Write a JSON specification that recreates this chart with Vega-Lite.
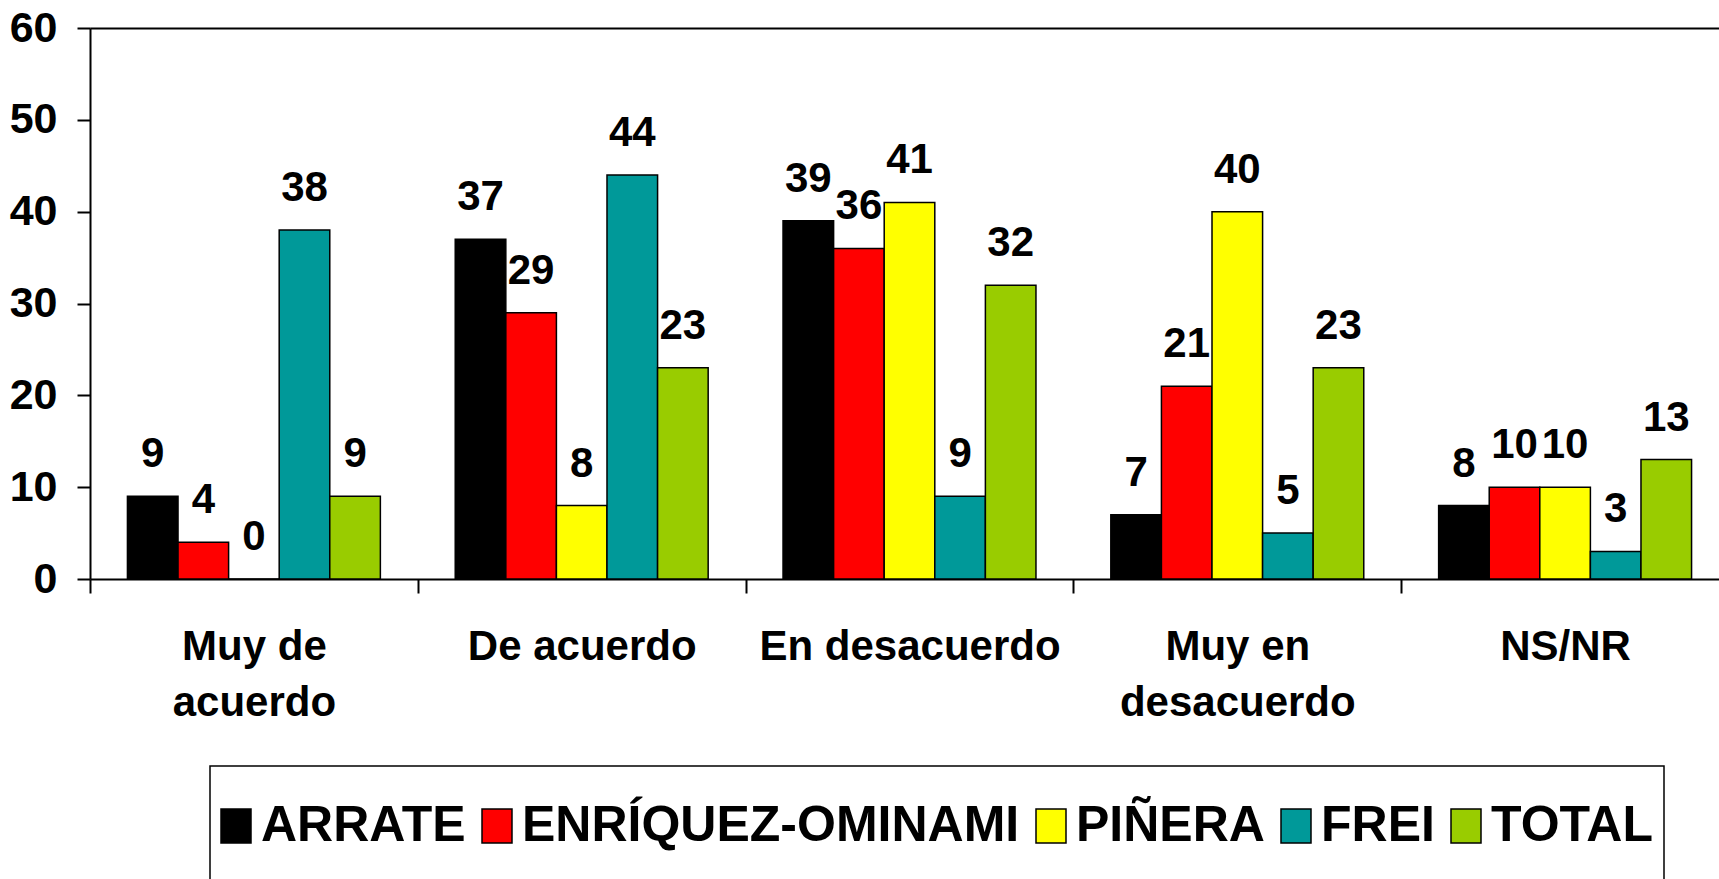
{
  "$schema": "https://vega.github.io/schema/vega-lite/v6.json",
  "width": 1639,
  "height": 551,
  "autosize": {"type": "none"},
  "padding": {"left": 90, "top": 28, "right": -10, "bottom": 300},
  "background": "white",
  "config": {
    "font": "Liberation Sans",
    "view": {"stroke": null}
  },
  "data": {
    "values": [
      {"cat": "Muy de acuerdo", "cand": "ARRATE", "v": 9},
      {"cat": "Muy de acuerdo", "cand": "ENRÍQUEZ-OMINAMI", "v": 4},
      {"cat": "Muy de acuerdo", "cand": "PIÑERA", "v": 0},
      {"cat": "Muy de acuerdo", "cand": "FREI", "v": 38},
      {"cat": "Muy de acuerdo", "cand": "TOTAL", "v": 9},
      {"cat": "De acuerdo", "cand": "ARRATE", "v": 37},
      {"cat": "De acuerdo", "cand": "ENRÍQUEZ-OMINAMI", "v": 29},
      {"cat": "De acuerdo", "cand": "PIÑERA", "v": 8},
      {"cat": "De acuerdo", "cand": "FREI", "v": 44},
      {"cat": "De acuerdo", "cand": "TOTAL", "v": 23},
      {"cat": "En desacuerdo", "cand": "ARRATE", "v": 39},
      {"cat": "En desacuerdo", "cand": "ENRÍQUEZ-OMINAMI", "v": 36},
      {"cat": "En desacuerdo", "cand": "PIÑERA", "v": 41},
      {"cat": "En desacuerdo", "cand": "FREI", "v": 9},
      {"cat": "En desacuerdo", "cand": "TOTAL", "v": 32},
      {"cat": "Muy en desacuerdo", "cand": "ARRATE", "v": 7},
      {"cat": "Muy en desacuerdo", "cand": "ENRÍQUEZ-OMINAMI", "v": 21},
      {"cat": "Muy en desacuerdo", "cand": "PIÑERA", "v": 40},
      {"cat": "Muy en desacuerdo", "cand": "FREI", "v": 5},
      {"cat": "Muy en desacuerdo", "cand": "TOTAL", "v": 23},
      {"cat": "NS/NR", "cand": "ARRATE", "v": 8},
      {"cat": "NS/NR", "cand": "ENRÍQUEZ-OMINAMI", "v": 10},
      {"cat": "NS/NR", "cand": "PIÑERA", "v": 10},
      {"cat": "NS/NR", "cand": "FREI", "v": 3},
      {"cat": "NS/NR", "cand": "TOTAL", "v": 13}
    ]
  },
  "encoding": {
    "x": {
      "field": "cat",
      "type": "nominal",
      "sort": null,
      "scale": {"paddingInner": 0, "paddingOuter": 0},
      "axis": {
        "title": null,
        "labelAngle": 0,
        "labelFontSize": 42,
        "labelFontWeight": "bold",
        "labelColor": "black",
        "labelPadding": 33,
        "labelLineHeight": 56,
        "labelLimit": 0,
        "labelBaseline": "top",
        "tickBand": "extent",
        "tickSize": 14,
        "tickWidth": 2,
        "tickColor": "black",
        "domainColor": "black",
        "domainWidth": 2,
        "labelExpr": "datum.label == 'Muy de acuerdo' ? ['Muy de', 'acuerdo'] : datum.label == 'Muy en desacuerdo' ? ['Muy en', 'desacuerdo'] : datum.label"
      }
    },
    "xOffset": {
      "field": "cand",
      "type": "nominal",
      "sort": ["ARRATE", "ENRÍQUEZ-OMINAMI", "PIÑERA", "FREI", "TOTAL"],
      "scale": {"paddingInner": 0, "paddingOuter": 0.74}
    },
    "y": {
      "field": "v",
      "type": "quantitative",
      "scale": {"domain": [0, 60], "nice": false},
      "axis": {
        "title": null,
        "values": [0, 10, 20, 30, 40, 50, 60],
        "labelFontSize": 43,
        "labelFontWeight": "bold",
        "labelColor": "black",
        "labelPadding": 20,
        "tickSize": 13,
        "tickWidth": 2,
        "tickColor": "black",
        "domainColor": "black",
        "domainWidth": 2,
        "grid": true,
        "gridWidth": 2,
        "gridColor": {"condition": {"test": "datum.value === 60", "value": "black"}, "value": "transparent"}
      }
    }
  },
  "layer": [
    {
      "mark": {"type": "bar", "stroke": "black", "strokeWidth": 1.5},
      "encoding": {
        "color": {
          "field": "cand",
          "type": "nominal",
          "scale": {
            "domain": ["ARRATE", "ENRÍQUEZ-OMINAMI", "PIÑERA", "FREI", "TOTAL"],
            "range": ["#000000", "#FF0000", "#FFFF00", "#009999", "#99CC00"]
          },
          "legend": {
            "title": null,
            "orient": "none",
            "legendX": 120,
            "legendY": 738,
            "direction": "horizontal",
            "columns": 5,
            "padding": 10,
            "clipHeight": 100,
            "strokeColor": "black",
            "fillColor": "white",
            "labelFontSize": 50,
            "labelFontWeight": "bold",
            "labelColor": "black",
            "labelLimit": 0,
            "labelOffset": -61,
            "columnPadding": 15,
            "symbolType": "M-1,-0.34H-0.4V0.34H-1Z",
            "symbolSize": 10000,
            "symbolStrokeColor": "black",
            "symbolStrokeWidth": 1.5,
            "symbolOpacity": 1,
            "encode": {"legend": {"update": {"strokeWidth": {"value": 1.5}}}}
          }
        }
      }
    },
    {
      "mark": {"type": "text", "fontSize": 42, "fontWeight": "bold", "color": "black", "baseline": "alphabetic", "dy": -29},
      "encoding": {
        "text": {"field": "v", "type": "quantitative"}
      }
    }
  ]
}
